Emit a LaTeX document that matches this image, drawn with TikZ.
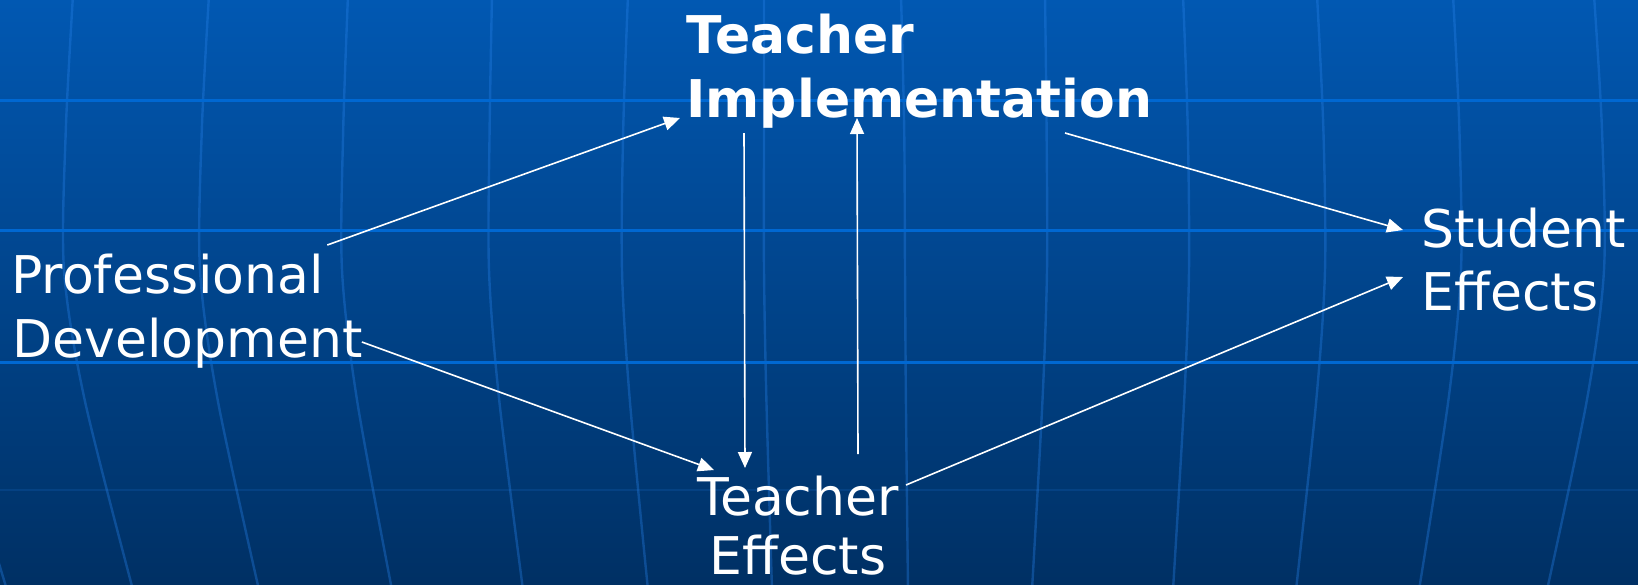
\documentclass[tikz,border=0pt]{standalone}
\usepackage{fontspec}
\setmainfont{DejaVu Sans}
\usetikzlibrary{arrows.meta}
\definecolor{bgtop}{RGB}{1,88,178}
\definecolor{bgbot}{RGB}{0,48,100}
\definecolor{gridh}{RGB}{0,104,210}
\definecolor{gridv}{RGB}{40,130,235}
\tikzset{
  lbl/.style={text=white, inner sep=0pt, font=\fontsize{26}{32}\selectfont},
  lblb/.style={text=white, inner sep=0pt, font=\fontsize{26}{32}\selectfont\bfseries},
  arr/.style={draw=white, line width=0.8pt, -{Triangle[length=8pt,width=7pt]}},
  meridian/.style={draw=gridv, draw opacity=0.35, line width=1.2pt},
  latline/.style={draw=gridh, line width=1.5pt}
}
\begin{document}
\begin{tikzpicture}[x=0.5pt,y=-0.5pt]
\useasboundingbox (0,0) rectangle (1638,584);
% background
\shade[top color=bgtop, bottom color=bgbot] (0,0) rectangle (1638,584);
% meridians
\foreach \xt/\xm/\xb in {-63/-72/7, 73/64/133, 209/200/259, 348/342/392, 492/489/523, 628/622/648, 764/764/772, 901/905/908, 1045/1047/1032, 1183/1189/1173, 1317/1325/1296, 1453/1461/1419, 1594/1604/1547}{
  \pgfmathsetmacro\xa{\xm+0.2*(\xt-\xm)}
  \pgfmathsetmacro\xq{\xm+0.3*(\xb-\xm)}
  \draw[meridian] plot[smooth] coordinates {(\xt,-5) (\xa,130) (\xm,270) (\xq,400) (\xb,590)};
}
% latitude lines
\foreach \yy in {100,230,362}{
  \draw[latline] (0,\yy) -- (1638,\yy);
}
\draw[draw=gridv, draw opacity=0.15, line width=1pt] (0,490) -- (1638,490);
% labels
\node[lblb, anchor=base west] (ti1) at (686,53) {Teacher};
\node[lblb, anchor=base west] (ti2) at (686,117) {Implementation};
\node[lbl, anchor=base west] (pd1) at (11,293) {Professional};
\node[lbl, anchor=base west] (pd2) at (12,357) {Development};
\node[lbl, anchor=base west] (se1) at (1421,247) {Student};
\node[lbl, anchor=base west] (se2) at (1421,310) {Effects};
\node[lbl, anchor=base] (te1) at (798,515) {Teacher};
\node[lbl, anchor=base] (te2) at (798,574) {Effects};
% connectors
\draw[arr] ([shift={(3,-48)}]pd1.base east) -- ([shift={(-6,1)}]ti2.base west);
\draw[arr] ([shift={(58,16)}]ti2.base west) -- ([shift={(-53,-47)}]te1.base);
\draw[arr] ([shift={(60,-61)}]te1.base) -- ([shift={(171,1)}]ti2.base west);
\draw[arr] ([shift={(379,16)}]ti2.base west) -- ([shift={(-18,-17)}]se1.base west);
\draw[arr] ([shift={(-1,-15)}]pd2.base east) -- ([shift={(-84,-45)}]te1.base);
\draw[arr] ([shift={(108,-30)}]te1.base) -- ([shift={(-18,-33)}]se2.base west);
\end{tikzpicture}
\end{document}
